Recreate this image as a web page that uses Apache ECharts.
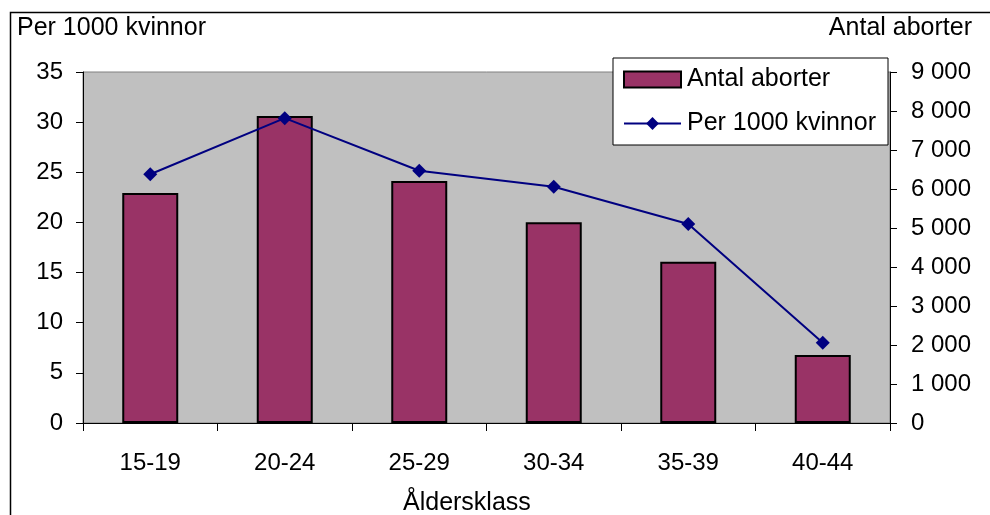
<!DOCTYPE html>
<html>
<head>
<meta charset="utf-8">
<script src="https://cdn.jsdelivr.net/npm/echarts@6/dist/echarts.min.js"></script>
<style>html,body{margin:0;padding:0;background:#fff;}#c{width:990px;height:515px;}</style>
</head>
<body>
<div id="c"></div>
<script>
const categories = ['15-19', '20-24', '25-29', '30-34', '35-39', '40-44'];
const antalAborter = [5900, 7870, 6205, 5146, 4136, 1745];
const per1000 = [24.8, 30.4, 25.15, 23.55, 19.85, 8.0];
const leftTicks = { min: 0, max: 35, interval: 5 };
const rightTicks = { min: 0, max: 9000, interval: 1000 };

const FONT = 'Liberation Sans, Arial, sans-serif';
const chart = echarts.init(document.getElementById('c'), null, { renderer: 'canvas' });
chart.setOption({
  animation: false,
  backgroundColor: '#ffffff',
  textStyle: { fontFamily: FONT, color: '#000' },
  grid: {
    left: 83, right: 100, top: 72, bottom: 92,
    show: true, backgroundColor: '#C0C0C0', borderColor: '#808080', borderWidth: 1
  },
  legend: {
    orient: 'vertical',
    left: 613, top: 58,
    backgroundColor: '#ffffff',
    borderColor: '#000', borderWidth: 1,
    padding: [9, 12, 9, 10],
    itemWidth: 57, itemHeight: 16, itemGap: 19,
    textStyle: { fontFamily: FONT, fontSize: 25, color: '#000', lineHeight: 25, padding: [0, 0, 0, 1] },
    data: [{ name: 'Antal aborter', icon: 'rect' }, { name: 'Per 1000 kvinnor' }]
  },
  xAxis: {
    type: 'category',
    data: categories,
    boundaryGap: true,
    axisLine: { lineStyle: { color: '#000', width: 1 } },
    axisTick: { show: true, length: 8, lineStyle: { color: '#000' } },
    axisLabel: { fontFamily: FONT, fontSize: 24, color: '#000', margin: 28 },
    splitLine: { show: false }
  },
  yAxis: [
    {
      type: 'value', position: 'left',
      min: leftTicks.min, max: leftTicks.max, interval: leftTicks.interval,
      axisLine: { show: true, lineStyle: { color: '#000', width: 1 } },
      axisTick: { show: true, length: 7, lineStyle: { color: '#000' } },
      axisLabel: { fontFamily: FONT, fontSize: 24, color: '#000', margin: 20 },
      splitLine: { show: false }
    },
    {
      type: 'value', position: 'right',
      min: rightTicks.min, max: rightTicks.max, interval: rightTicks.interval,
      axisLine: { show: true, lineStyle: { color: '#000', width: 1 } },
      axisTick: { show: true, length: 7, lineStyle: { color: '#000' } },
      axisLabel: {
        fontFamily: FONT, fontSize: 24, color: '#000', margin: 21,
        formatter: v => v >= 1000 ? Math.floor(v / 1000) + ' ' + String(v % 1000).padStart(3, '0') : String(v)
      },
      splitLine: { show: false }
    }
  ],
  series: [
    {
      name: 'Antal aborter', type: 'bar', yAxisIndex: 1,
      data: antalAborter, barWidth: 56,
      itemStyle: { color: '#993366', borderColor: '#000', borderWidth: 2 },
      z: 2
    },
    {
      name: 'Per 1000 kvinnor', type: 'line', yAxisIndex: 0,
      data: per1000,
      lineStyle: { color: '#000080', width: 2 },
      itemStyle: { color: '#000080' },
      symbol: 'diamond', symbolSize: 14,
      z: 3
    }
  ],
  graphic: [
    { type: 'rect', left: 8, top: 10, shape: { width: 1000, height: 600 },
      style: { fill: 'none', stroke: '#000', lineWidth: 1.5 }, silent: true, z: 100 },
    { type: 'text', left: 17, top: 16,
      style: { text: 'Per 1000 kvinnor', font: '25px ' + FONT, fill: '#000' } },
    { type: 'text', right: 18, top: 16,
      style: { text: 'Antal aborter', font: '25px ' + FONT, fill: '#000' } },
    { type: 'text', left: 403, top: 491,
      style: { text: 'Åldersklass', font: '25px ' + FONT, fill: '#000' } }
  ]
});
</script>
</body>
</html>
